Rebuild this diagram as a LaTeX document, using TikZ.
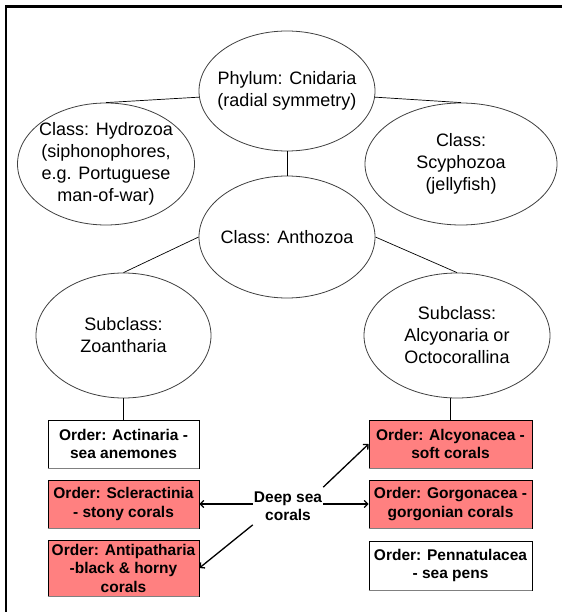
\documentclass[tikz,border=0pt]{standalone}
\usepackage{fontspec}
\setmainfont{Liberation Sans}
\usetikzlibrary{shapes.geometric,arrows.meta}
\definecolor{salmon}{RGB}{255,128,128}
\definecolor{edgegray}{RGB}{64,64,64}
\definecolor{shadowgray}{RGB}{128,128,128}
\begin{document}
\begin{tikzpicture}[x=1pt,y=-1pt,
  ell/.style={ellipse,draw=edgegray,line width=0.8pt,inner sep=0pt},
  etext/.style={align=center,font=\fontsize{18}{22}\selectfont,inner sep=0pt},
  obox/.style={rectangle,draw=black,line width=0.8pt,align=center,font=\fontsize{15.5}{18.5}\selectfont\bfseries,inner sep=0pt},
  boxshadow/.style={draw=shadowgray,line width=1.4pt},
  link/.style={draw=black,line width=0.7pt},
  arr/.style={draw=black,line width=1.3pt,-{Straight Barb[length=3.5pt,width=7pt]}}
]
\useasboundingbox (0,0) rectangle (562,612);
\fill[white] (0,0) rectangle (562,612);
\draw[line width=2.5pt] (6,612) -- (6,6.5) -- (562,6.5);

% ellipses
\node[ell,minimum width=176,minimum height=120] (ph) at (287,91) {};
\node[etext] (phT) at (ph) {Phylum: Cnidaria\\(radial symmetry)};
\node[ell,minimum width=177,minimum height=122] (hy) at (106,164) {};
\node[etext] (hyT) at (hy) {Class: Hydrozoa\\(siphonophores,\\e.g. Portuguese\\man-of-war)};
\node[ell,minimum width=192,minimum height=122] (sc) at (461,164) {};
\node[etext] (scT) at (sc) {Class:\\Scyphozoa\\(jellyfish)};
\node[ell,minimum width=176,minimum height=122] (an) at (287,237) {};
\node[etext] (anT) at (an) {Class: Anthozoa};
\node[ell,minimum width=175,minimum height=125] (zo) at (123.5,335.5) {};
\node[etext] (zoT) at (zo) {Subclass:\\Zoantharia};
\node[ell,minimum width=186,minimum height=125] (al) at (457,335.5) {};
\node[etext] (alT) at (al) {Subclass:\\Alcyonaria or\\Octocorallina};

% boxes
\node[obox,fill=white,minimum width=151,minimum height=48] (ac) at (123.5,444) {Order: Actinaria -\\sea anemones};
\node[obox,fill=salmon,minimum width=151,minimum height=48] (scl) at (123.5,504) {Order: Scleractinia\\- stony corals};
\node[obox,fill=salmon,minimum width=151,minimum height=56] (ap) at (123.5,568) {Order: Antipatharia\\-black \& horny\\corals};
\node[obox,fill=salmon,minimum width=163,minimum height=48] (alc) at (450.5,444) {Order: Alcyonacea -\\soft corals};
\node[obox,fill=salmon,minimum width=163,minimum height=48] (gor) at (450.5,504) {Order: Gorgonacea -\\gorgonian corals};
\node[obox,fill=white,minimum width=163,minimum height=49] (pen) at (450.5,565.5) {Order: Pennatulacea\\- sea pens};
\foreach \b in {ac,scl,ap,alc,gor,pen}{
  \draw[boxshadow] (\b.south west) -- (\b.south east);
}

\node[font=\fontsize{15.5}{18.5}\selectfont\bfseries,align=center,inner xsep=1pt,inner ysep=4pt] (deep) at (288,506) {Deep sea\\corals};

% links
\draw[link] (ph.184) -- (hy.north);
\draw[link] (ph.-4) -- (sc.north);
\draw[link] (ph.south) -- (an.north);
\draw[link] (an.west) -- (zo.north);
\draw[link] (an.east) -- (al.north);
\draw[link] (zo.south) -- (ac.north);
\draw[link] (alc.north |- al.south) -- (alc.north);

% arrows
\draw[arr] (deep.west |- scl.east) -- (scl.east);
\draw[arr] (deep.east |- gor.west) -- (gor.west);
\draw[arr] (deep.south west) -- (ap.east);
\draw[arr] (deep.north east) -- (alc.west);
\end{tikzpicture}
\end{document}
